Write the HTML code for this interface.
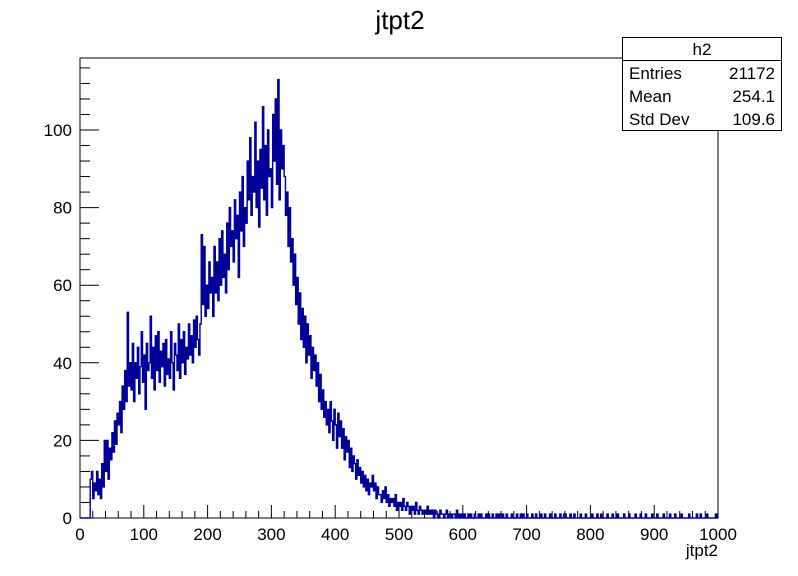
<!DOCTYPE html>
<html><head><meta charset="utf-8"><style>
body{margin:0;background:#fff;}
svg{display:block;font-family:"Liberation Sans",sans-serif;}
</style></head><body>
<svg id="chart" width="798" height="576" viewBox="0 0 798 576">
<rect width="798" height="576" fill="#fff"/>
<text x="400" y="29" font-size="26" text-anchor="middle">jtpt2</text>
<rect x="80" y="58" width="638" height="460" fill="none" stroke="#000" stroke-width="1"/>
<g id="axes"></g>
<path id="hist" fill="none" stroke="#000099" stroke-width="1.4"/>
<text x="718" y="556" font-size="17" text-anchor="end">jtpt2</text>
<g>
<rect x="622.5" y="37.5" width="159" height="93" fill="#fff" stroke="#000"/>
<line x1="622.5" y1="60.5" x2="781.5" y2="60.5" stroke="#000"/>
<text x="702" y="55" font-size="17" text-anchor="middle">h2</text>
<text x="629" y="79" font-size="17">Entries</text><text x="775" y="79" font-size="17" text-anchor="end">21172</text>
<text x="629" y="102" font-size="17">Mean</text><text x="775" y="102" font-size="17" text-anchor="end">254.1</text>
<text x="629" y="125" font-size="17">Std Dev</text><text x="775" y="125" font-size="17" text-anchor="end">109.6</text>
</g>
</svg>
<script>
const binWidth = 2;
const xTicks = [0,100,200,300,400,500,600,700,800,900,1000];
const yTicks = [0,20,40,60,80,100];
const counts = [
0,0,0,0,0, 0,0,0,10,12, 5,9,7,12,6, 10,5,14,8,20,
12,20,10,18,15, 22,17,25,19,27, 24,30,22,34,28, 38,30,53,34,40,
33,45,30,40,36, 44,32,39,48,35, 42,28,45,38,40, 52,36,44,33,47,
38,48,35,43,39, 45,34,46,37,41, 36,48,40,33,45, 42,38,50,36,46,
40,48,37,44,41, 50,42,47,40,51, 44,52,46,42,50, 73,55,70,52,60,
54,66,58,62,52, 70,58,66,56,72, 60,74,62,68,58, 76,64,80,70,74,
66,82,72,78,62, 84,74,88,70,80, 76,92,82,98,78, 88,84,102,80,92,
75,95,85,106,82, 96,78,100,88,90, 80,104,92,108,86, 113,82,100,90,96,
88,78,84,70,80, 66,72,60,68,55, 62,50,58,46,54, 44,52,40,50,42,
47,36,44,38,42, 34,40,30,37,28, 33,26,30,24,28, 22,30,25,20,28,
24,18,27,21,25, 18,23,15,21,17, 20,13,18,12,16, 14,10,15,11,13,
9,12,8,11,7, 10,6,9,8,11, 7,9,5,8,6, 6,4,7,5,8,
4,6,3,5,4, 5,3,6,2,4,
3,4,2,5,3, 2,4,3,1,3, 2,3,1,4,2, 1,3,2,1,2, 2,1,3,1,2,
1,2,0,2,1, 1,0,2,1,1, 0,1,2,0,1, 1,0,1,1,0, 2,0,1,0,1,
0,1,0,0,1,0,1,0,0,1, 0,0,1,0,1,0,0,0,1,0, 1,0,0,1,0,0,1,0,1,0, 0,1,0,0,1,0,0,0,1,0,
0,0,1,0,0,1,0,1,0,0, 1,0,0,0,1,0,0,1,0,0, 0,1,0,0,1,0,0,0,1,0, 0,0,1,0,0,0,1,0,0,1,
1,0,0,0,1,0,0,1,0,0, 0,0,1,0,0,0,1,0,0,0, 0,1,0,0,0,1,0,0,1,0, 0,0,0,1,0,0,0,1,0,0,
0,1,0,0,0,0,1,0,0,0, 1,0,0,0,0,1,0,0,0,1, 0,0,0,1,0,0,0,0,1,0, 0,0,1,0,0,0,0,1,0,0,
0,0,1,0,0,0,1,0,0,0, 0,1,0,0,0,0,0,1,0,0, 0,0,0,1,0,0,1,0,0,0, 0,1,0,0,0,0,0,0,1,0
];
const X0=80,X1=718,Y0=518,PXPERY=3.88;
function xs(v){return X0+(v/1000)*(X1-X0);}
function ys(v){return Y0-v*PXPERY;}
const NS='http://www.w3.org/2000/svg';
const axes=document.getElementById('axes');
function line(x1,y1,x2,y2,name){const l=document.createElementNS(NS,'line');l.setAttribute('x1',x1);l.setAttribute('y1',y1);l.setAttribute('x2',x2);l.setAttribute('y2',y2);l.setAttribute('stroke','#000');


axes.appendChild(l);}
function label(x,y,t,anchor,name){const e=document.createElementNS(NS,'text');e.setAttribute('x',x);e.setAttribute('y',y);e.setAttribute('font-size','17');e.setAttribute('text-anchor',anchor);e.textContent=t;


axes.appendChild(e);}
for(let v=0;v<=1000;v+=20){const x=xs(v);const major=v%100===0;line(x,Y0,x,Y0-(major?13:7),'x-tick');}
xTicks.forEach(v=>label(xs(v),540,String(v),'middle','x-tick-label'));
for(let v=0;v<=116;v+=4){const y=ys(v);const major=v%20===0;line(X0,y,X0+(major?19:10),y,'y-tick');}
yTicks.forEach(v=>label(72,ys(v)+6,String(v),'end','y-tick-label'));
let d='M'+xs(0)+','+Y0;
counts.forEach((c,i)=>{const xa=xs(i*binWidth),xb=xs((i+1)*binWidth),y=ys(c);d+=' L'+xa.toFixed(2)+','+y.toFixed(2)+' L'+xb.toFixed(2)+','+y.toFixed(2);});
d+=' L'+xs(counts.length*binWidth)+','+Y0;
document.getElementById('hist').setAttribute('d',d);
</script>
</body></html>
